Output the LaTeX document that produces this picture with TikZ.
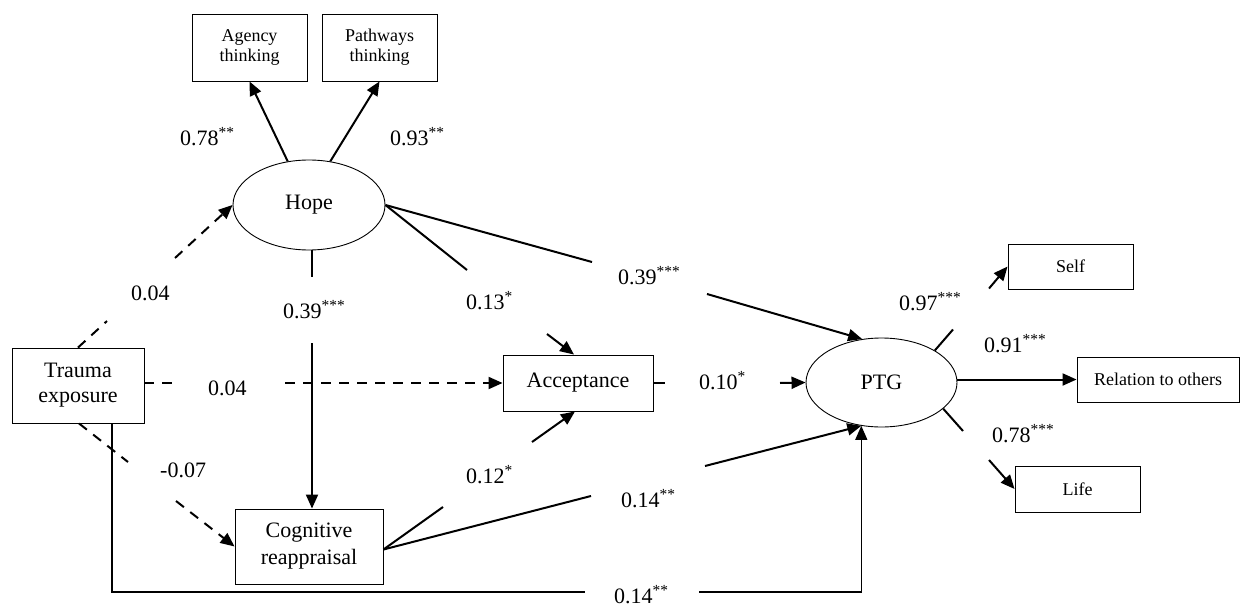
\documentclass[tikz,border=0pt]{standalone}
\usepackage{fontspec}
\setmainfont{Liberation Serif}
\usetikzlibrary{shapes.geometric,arrows.meta,calc}
\newcommand{\sig}[1]{\textsuperscript{#1}}
\tikzset{
  bigtext/.style={font=\fontsize{22}{25}\selectfont},
  smalltext/.style={font=\fontsize{18}{20}\selectfont},
  boxnode/.style={draw, line width=0.9pt, rectangle, inner sep=0pt, align=center, bigtext},
  sidebox/.style={draw, line width=0.9pt, rectangle, inner sep=0pt, align=center, smalltext},
  ellnode/.style={draw, line width=0.9pt, ellipse, inner sep=0pt, bigtext},
  lbl/.style={anchor=base west, inner sep=0pt, bigtext},
  ln/.style={line width=2pt},
  arr/.style={line width=2pt, -{Triangle[length=14pt,width=12pt]}},
  dl/.style={line width=2pt, dash pattern=on 10pt off 8pt},
  darr/.style={line width=2pt, dash pattern=on 10pt off 8pt, -{Triangle[length=14pt,width=12pt]}},
  thinln/.style={line width=1.2pt},
  thinarr/.style={line width=1.2pt, -{Triangle[length=14pt,width=12pt]}}
}
\begin{document}
\begin{tikzpicture}[x=1pt,y=-1pt]
\path[use as bounding box] (0,0) rectangle (1241,607);

% nodes
\node[sidebox, minimum width=115pt, minimum height=67pt] (agency) at (249.5,47.5) {Agency\\thinking};
\node[sidebox, minimum width=115pt, minimum height=67pt] (pathways) at (379.5,47.5) {Pathways\\thinking};
\node[ellnode, minimum width=152pt, minimum height=90pt] (hope) at (309,205) {Hope};
\node[boxnode, minimum width=132pt, minimum height=75pt] (trauma) at (78,385.5) {Trauma\\exposure};
\node[boxnode, minimum width=150pt, minimum height=56pt] (accept) at (578,383) {Acceptance};
\node[boxnode, minimum width=148pt, minimum height=75pt, font=\fontsize{22}{27}\selectfont] (cog) at (309,546.5) {Cognitive\\reappraisal};
\node[ellnode, minimum width=151pt, minimum height=89pt] (ptg) at (881.5,382.5) {PTG};
\node[sidebox, minimum width=125pt, minimum height=45pt] (self) at (1070.5,266.5) {Self};
\node[sidebox, minimum width=162pt, minimum height=45pt] (rel) at (1158,379.5) {Relation to others};
\node[sidebox, minimum width=125pt, minimum height=46pt] (life) at (1077.5,489) {Life};

% gap coordinates
\coordinate (hp1) at (592,262);
\coordinate (hp2) at (707,294);
\coordinate (ha1) at (467,270);
\coordinate (ha2) at (547,334);
\coordinate (hc1) at (312,277);
\coordinate (hc2) at (312,343);
\coordinate (th1) at (107,321);
\coordinate (th2) at (175,258);
\coordinate (ta1) at (172,383);
\coordinate (ta2) at (285,383);
\coordinate (tc1) at (128,462);
\coordinate (tc2) at (176,501);
\coordinate (tp1) at (585,592);
\coordinate (tp2) at (699,592);
\coordinate (ca1) at (443,507);
\coordinate (ca2) at (532,442);
\coordinate (cp1) at (591,496);
\coordinate (cp2) at (705,466);
\coordinate (ap1) at (665,383);
\coordinate (ap2) at (780,383);
\coordinate (ps1) at (953,329.5);
\coordinate (ps2) at (989,288.5);
\coordinate (pl1) at (963,431);
\coordinate (pl2) at (989,460);

% connectors
\draw[arr] (hope.116) -- (agency.south);
\draw[arr] (hope.64) -- (pathways.south);

\draw[ln] (hope.east) -- (hp1);
\draw[arr] (hp2) -- (ptg.114);

\draw[ln] (hope.east) -- (ha1);
\draw[arr] (ha2) -- ([xshift=-4pt]accept.north);

\draw[ln] ([xshift=3pt]hope.south) -- (hc1);
\draw[arr] (hc2) -- ([xshift=3pt]cog.north);

\draw[dl] (trauma.north) -- (th1);
\draw[darr] (th2) -- (hope.west);

\draw[dl] (trauma.east |- accept.west) -- (ta1);
\draw[darr] (ta2) -- (accept.west);

\draw[dl] ([xshift=1pt]trauma.south) -- (tc1);
\draw[darr] (tc2) -- (cog.west);

\draw[thinln] ([xshift=34pt]trauma.south) |- (tp1);
\draw[thinarr] (tp2) -| (ptg.245);

\draw[ln] ([yshift=-3pt]cog.east) -- (ca1);
\draw[arr] (ca2) -- ([xshift=-3pt]accept.south);

\draw[ln] ([yshift=-3pt]cog.east) -- (cp1);
\draw[arr] (cp2) -- (ptg.245);

\draw[ln] (accept.east) -- (ap1);
\draw[arr] (ap2) -- (ptg.west);

\draw[ln] (ptg.31) -- (ps1);
\draw[arr] (ps2) -- (self.west);

\draw[arr] (ptg.east |- rel.west) -- (rel.west);

\draw[ln] (ptg.337) -- (pl1);
\draw[arr] (pl2) -- (life.west);

% labels
\node[lbl] (l1) at (180,145) {0.78\sig{**}};
\node[lbl] (l2) at (390,145) {0.93\sig{**}};
\node[lbl] (l3) at (131,300) {0.04};
\node[lbl] (l4) at (283,318) {0.39\sig{***}};
\node[lbl] (l5) at (466,309) {0.13\sig{*}};
\node[lbl] (l6) at (618,284) {0.39\sig{***}};
\node[lbl] (l7) at (208,395) {0.04};
\node[lbl] (l8) at (699,389) {0.10\sig{*}};
\node[lbl] (l9) at (899,310) {0.97\sig{***}};
\node[lbl] (l10) at (984,352) {0.91\sig{***}};
\node[lbl] (l11) at (992,442) {0.78\sig{***}};
\node[lbl] (l12) at (160,477) {-0.07};
\node[lbl] (l13) at (466,483) {0.12\sig{*}};
\node[lbl] (l14) at (621,507) {0.14\sig{**}};
\node[lbl] (l15) at (614,603) {0.14\sig{**}};
\end{tikzpicture}
\end{document}
